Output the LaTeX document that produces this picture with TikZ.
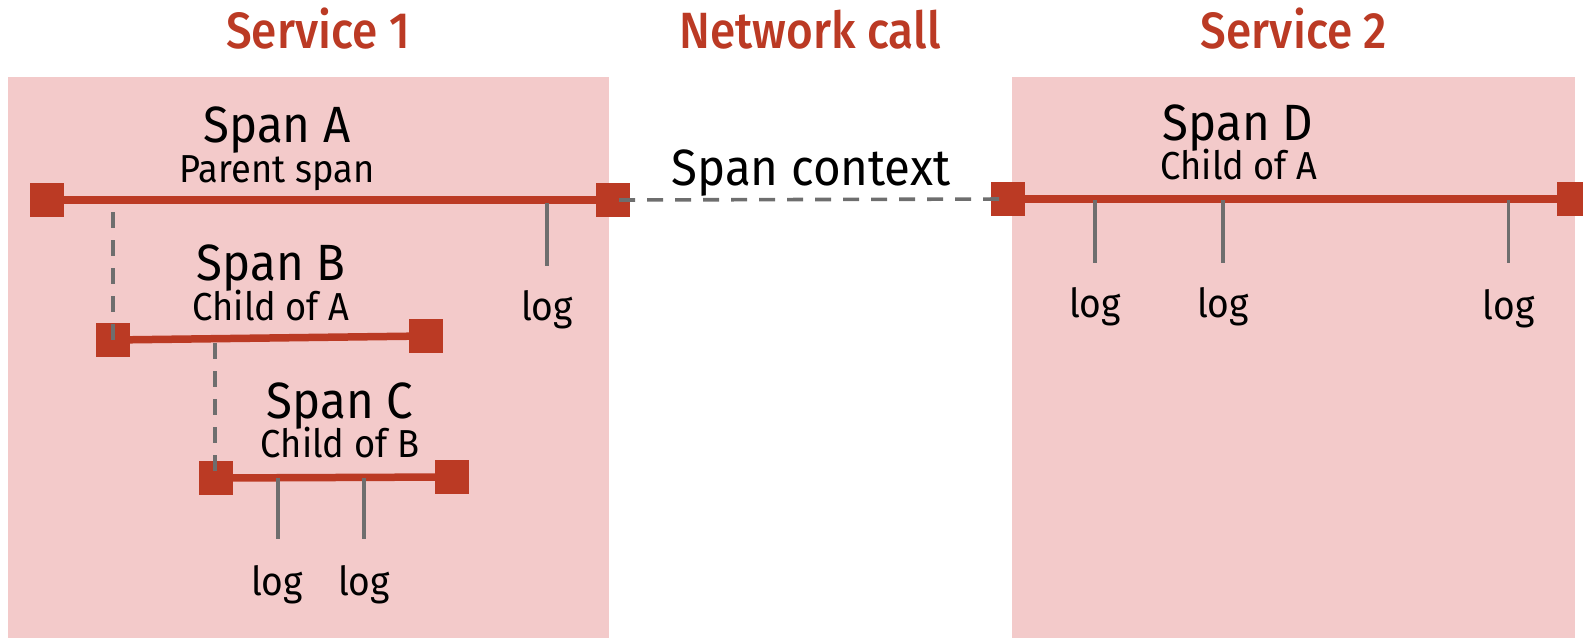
\documentclass[tikz,border=0pt]{standalone}
\usepackage{fontspec}
\setmainfont{Fira Sans}[FakeStretch=0.93]
\newfontfamily\titlefont{Fira Sans Medium}[FakeStretch=0.9]
\definecolor{spanred}{HTML}{BB3A24}
\definecolor{boxpink}{HTML}{F3CACA}
\definecolor{linkgray}{HTML}{6E6E6E}
\begin{document}
\begin{tikzpicture}[x=1pt,y=-1pt,
  service/.style={fill=boxpink,draw=none},
  heading/.style={anchor=base,inner sep=0pt,text=spanred,font=\titlefont\fontsize{51}{51}\selectfont},
  spanname/.style={anchor=base,inner sep=0pt,font=\fontsize{51}{51}\selectfont},
  spannote/.style={anchor=base,inner sep=0pt,font=\fontsize{39}{39}\selectfont},
  loglabel/.style={anchor=base,inner sep=0pt,font=\fontsize{40}{40}\selectfont},
  endcap/.style={fill=spanred,draw=none,minimum size=34pt,inner sep=0pt},
  spanline/.style={draw=spanred,line width=7.5pt},
  logtick/.style={draw=linkgray,line width=3.8pt},
  parentlink/.style={draw=linkgray,line width=3.6pt,dash pattern=on 16pt off 12pt}]
\useasboundingbox (0,0) rectangle (1583,638);
\clip (0,0) rectangle (1583,638);

% service areas
\fill[service] (8,77) rectangle (609,638);
\fill[service] (1012,77) rectangle (1575,638);

% headings
\node[heading] (h1) at (318,48) {Service 1};
\node[heading] (h2) at (810,48) {Network call};
\node[heading] (h3) at (1294,48) {Service 2};

% span A
\node[spanname] (tA) at (277,142) {Span A};
\node[spannote] (nA) at (277,182) {Parent span};
\node[endcap] (A1) at (47,200) {};
\node[endcap] (A2) at (613,200) {};
\draw[spanline] (A1.center) -- (A2.center);
\coordinate (lA) at (547,203);
\coordinate (lAe) at (547,266);
\node[loglabel] (gA) at (547,320) {log};
\draw[logtick] (lA) -- (lAe);

% span B
\node[spanname] (tB) at (271,280) {Span B};
\node[spannote] (nB) at (271,320) {Child of A};
\node[endcap] (B1) at (112.5,340) {};
\node[endcap] (B2) at (425.5,336) {};
\draw[spanline] (B1.center) -- (B2.center);
\coordinate (pA) at (113,212);
\coordinate (pB) at (113,340);
\draw[parentlink] (pA) -- (pB);

% span C
\node[spanname] (tC) at (340,418) {Span C};
\node[spannote] (nC) at (340,457) {Child of B};
\node[endcap] (C1) at (215.5,478) {};
\node[endcap] (C2) at (451.5,477) {};
\draw[spanline] (C1.center) -- (C2.center);
\coordinate (qB) at (215,343);
\coordinate (qC) at (215,477);
\draw[parentlink] (qB) -- (qC);
\coordinate (lC1) at (277.7,478);
\coordinate (lC1e) at (277.7,539);
\coordinate (lC2) at (364,478);
\coordinate (lC2e) at (364,539);
\node[loglabel] (gC1) at (277,595) {log};
\node[loglabel] (gC2) at (364,595) {log};
\draw[logtick] (lC1) -- (lC1e);
\draw[logtick] (lC2) -- (lC2e);

% span D
\node[spanname] (tD) at (1238,140) {Span D};
\node[spannote] (nD) at (1239,179) {Child of A};
\node[endcap] (D1) at (1008,199) {};
\node[endcap] (D2) at (1574,199) {};
\draw[spanline] (D1.center) -- (D2.center);
\foreach \x/\n/\b in {1095/1/317,1223/2/317,1508.5/3/319}{
  \coordinate (lD\n) at (\x,200);
  \coordinate (lD\n e) at (\x,263);
  \node[loglabel] (gD\n) at (\x,\b) {log};
  \draw[logtick] (lD\n) -- (lD\n e);
}

% context propagated across the network call
\node[spanname] (ctx) at (811,185) {Span context};
\draw[parentlink,dash phase=22pt] (A2.center) -- (D1.center);
\end{tikzpicture}
\end{document}
